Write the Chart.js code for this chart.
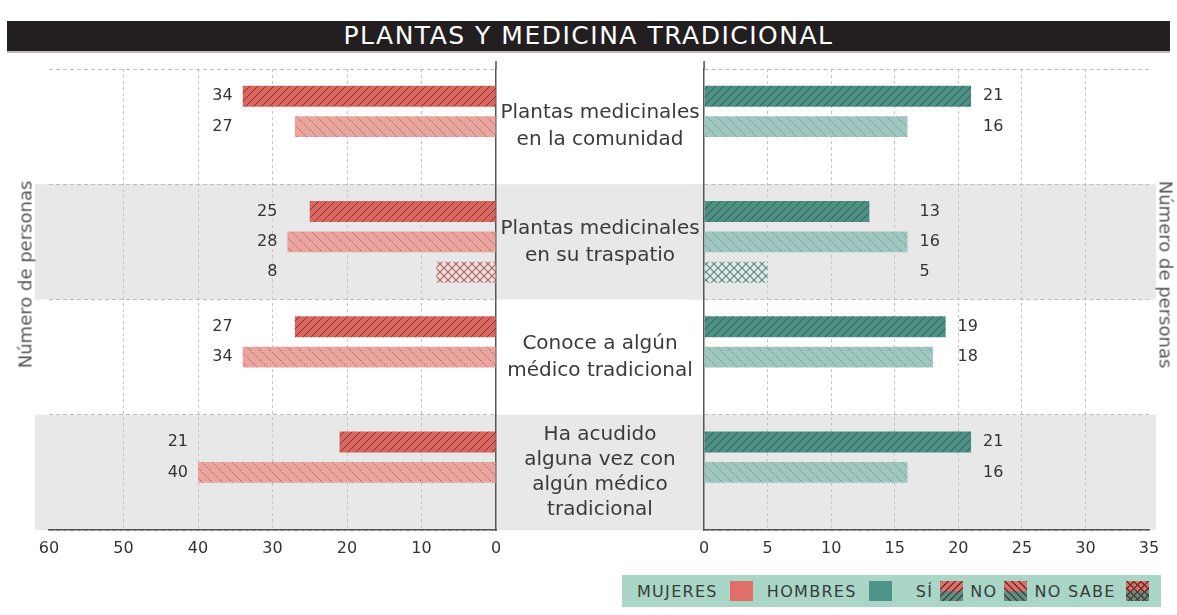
<!DOCTYPE html>
<html>
<head>
<meta charset="utf-8">
<script src="https://cdn.jsdelivr.net/npm/chart.js@4.4.1/dist/chart.umd.min.js"></script>
<style>
  body { margin: 0; background: #fff; font-family: 'DejaVu Sans', sans-serif; }
  #wrap { position: relative; width: 1177px; height: 615px; overflow: hidden; }
  #titulo { position: absolute; left: 7px; top: 21px; width: 1163px; height: 30px; background: #231f20;
    color: #fff; font-size: 25px; line-height: 30px; text-align: center; letter-spacing: 1.5px;
    border-bottom: 2px solid #bbb; }
  #izq { position: absolute; left: 0; top: 0; }
  #der { position: absolute; left: 690px; top: 0; }
  .ejeY { position: absolute; font-size: 18px; color: #555; white-space: nowrap; top: 264px; }
  #ejeIzq { left: 25px; transform: translate(-50%, 0) rotate(-90deg); }
  #ejeDer { left: 1166px; transform: translate(-50%, 0) rotate(90deg); }
  #leyenda { position: absolute; left: 622px; top: 575px; width: 539px; height: 32px; background: #a9d6c7;
    font-size: 16px; color: #3a3a3a; display: flex; align-items: center; padding-left: 15px; box-sizing: border-box;
    letter-spacing: 1.3px; }
  .sw { display: inline-block; width: 23px; height: 20px; margin-left: 7px; flex: none; }
</style>
</head>
<body>
<div id="wrap">
  <div id="titulo">PLANTAS Y MEDICINA TRADICIONAL</div>
  <canvas id="der" width="490" height="615"></canvas>
  <canvas id="izq" width="700" height="615"></canvas>
  <div class="ejeY" id="ejeIzq">Número de personas</div>
  <div class="ejeY" id="ejeDer">Número de personas</div>
  <div id="leyenda">
    <span>MUJERES</span>
    <div class="sw" style="margin-left:12px;background:#df6f68"></div>
    <span style="margin-left:14px">HOMBRES</span>
    <div class="sw" style="margin-left:12px;background:#4f9488"></div>
    <span style="margin-left:24px">SÍ</span>
    <div class="sw" style="background:
      repeating-linear-gradient(-45deg, transparent 0 4px, #6e3431 4px 5px),
      linear-gradient(#df6f68 50%, #4f9488 50%)"></div>
    <span style="margin-left:7px">NO</span>
    <div class="sw" style="background:
      repeating-linear-gradient(45deg, transparent 0 4px, #6e3431 4px 5px),
      linear-gradient(#df6f68 50%, #4f9488 50%)"></div>
    <span style="margin-left:7px">NO SABE</span>
    <div class="sw" style="margin-left:10px;background:
      repeating-linear-gradient(45deg, transparent 0 4px, #6e3431 4px 5px),
      repeating-linear-gradient(-45deg, transparent 0 4px, #6e3431 4px 5px),
      linear-gradient(#df6f68 50%, #4f9488 50%)"></div>
  </div>
</div>
<script>
// categorias (centro)
const categorias = [
  ['Plantas medicinales', 'en la comunidad'],
  ['Plantas medicinales', 'en su traspatio'],
  ['Conoce a algún', 'médico tradicional'],
  ['Ha acudido', 'alguna vez con', 'algún médico', 'tradicional']
];
const series = ['Sí', 'No', 'No sabe'];

// mujeres (izquierda)
const mujeresSi = [34, 25, 27, 21];
const mujeresNo = [27, 28, 34, 40];
const mujeresNoSabe = [null, 8, null, null];

// hombres (derecha)
const hombresSi = [21, 13, 19, 21];
const hombresNo = [16, 16, 18, 16];
const hombresNoSabe = [null, 5, null, null];

const ticksMujeres = [0, 60, 10];
const ticksHombres = [0, 35, 5];

function trama(ctx, fondo, linea, tipo, tam, dash, ancho) {
  const c = document.createElement('canvas');
  c.width = c.height = tam;
  const g = c.getContext('2d');
  g.fillStyle = fondo;
  g.fillRect(0, 0, tam, tam);
  g.strokeStyle = linea;
  g.lineWidth = ancho || 1;
  if (dash) g.setLineDash(dash);
  const dibuja = (dir) => {
    for (let k = -1; k <= 1; k++) {
      g.beginPath();
      if (dir === '/') { g.moveTo(k * tam, tam); g.lineTo(k * tam + tam, 0); }
      else { g.moveTo(k * tam, 0); g.lineTo(k * tam + tam, tam); }
      g.stroke();
    }
  };
  if (tipo === '/' || tipo === 'x') dibuja('/');
  if (tipo === '\\' || tipo === 'x') dibuja('\\');
  return ctx.createPattern(c, 'repeat');
}

const gris = '#e8e8e8';

function pluginFranjas(lado) {
  return {
    id: 'franjas' + lado,
    beforeDraw(chart) {
      const { ctx, chartArea, scales } = chart;
      const y = scales.y;
      const paso = chartArea.height / categorias.length;
      const x0 = lado === 'izq' ? 35 : 0;
      const x1 = lado === 'izq' ? chart.width : chartArea.left + 452;
      ctx.save();
      ctx.fillStyle = gris;
      [1, 3].forEach(i => {
        const c = y.getPixelForValue(i);
        ctx.fillRect(x0, c - paso / 2, x1 - x0, paso);
      });
      ctx.restore();
    },
    afterDatasetsDraw(chart) {
      const { ctx, scales } = chart;
      ctx.save();
      ctx.font = '16px "DejaVu Sans"';
      ctx.fillStyle = '#333';
      ctx.textBaseline = 'middle';
      ctx.textAlign = lado === 'izq' ? 'right' : 'left';
      categorias.forEach((_, i) => {
        let max = 0;
        chart.data.datasets.forEach(ds => { if (ds.data[i] != null) max = Math.max(max, ds.data[i]); });
        const xp = scales.x.getPixelForValue(max) + (lado === 'izq' ? -10 : 12);
        chart.data.datasets.forEach((ds, d) => {
          if (ds.data[i] == null) return;
          const bar = chart.getDatasetMeta(d).data[i];
          ctx.fillText(String(ds.data[i]), xp, bar.y);
        });
      });
      ctx.restore();
    },
    afterDraw(chart) {
      const { ctx, chartArea, scales } = chart;
      ctx.save();
      ctx.strokeStyle = '#555';
      ctx.lineWidth = 1.5;
      const xe = lado === 'izq' ? chartArea.right : chartArea.left;
      ctx.beginPath();
      ctx.moveTo(xe, chartArea.top - 8);
      ctx.lineTo(xe, chartArea.top);
      ctx.stroke();
      if (lado === 'izq') {
        ctx.font = '20px "DejaVu Sans"';
        ctx.fillStyle = '#3a3a3a';
        ctx.textAlign = 'center';
        ctx.textBaseline = 'middle';
        const cx = chartArea.right + 104;
        categorias.forEach((lineas, i) => {
          const cy = scales.y.getPixelForValue(i);
          const lh = lineas.length > 2 ? 25 : 27;
          lineas.forEach((t, j) => {
            ctx.fillText(t, cx, cy + (j - (lineas.length - 1) / 2) * lh);
          });
        });
      }
      ctx.restore();
    }
  };
}

function crear(id, lado, datos, colores, rango) {
  const el = document.getElementById(id);
  const ctx = el.getContext('2d');
  const [min, max, paso] = rango;
  return new Chart(ctx, {
    type: 'bar',
    data: {
      labels: categorias,
      datasets: series.map((s, k) => ({
        label: s,
        data: datos[k],
        backgroundColor: colores[k],
        borderWidth: 0,
        categoryPercentage: 0.792,
        barPercentage: 0.69
      }))
    },
    options: {
      indexAxis: 'y',
      responsive: false,
      animation: false,
      layout: { padding: lado === 'izq' ? { left: 49, right: 204, top: 69, bottom: 0 } : { left: 5, right: 30, top: 69, bottom: 0 } },
      plugins: { legend: { display: false }, tooltip: { enabled: false } },
      scales: {
        x: {
          type: 'linear',
          reverse: lado === 'izq',
          min: min,
          max: max,
          afterFit(s) { s.height = 85; },
          ticks: { stepSize: paso, color: '#333', font: { family: 'DejaVu Sans', size: 16 }, padding: 9 },
          grid: {
            color: c => (c.tick && (c.tick.value === 0 || c.tick.value === max)) ? 'rgba(0,0,0,0)' : '#c4c4c4',
            drawTicks: false,
            lineWidth: 1
          },
          border: { display: true, color: '#555', width: 1.5, dash: [3, 3] }
        },
        y: {
          type: 'category',
          position: lado === 'izq' ? 'right' : 'left',
          afterFit(s) { s.width = 0; },
          ticks: { display: false },
          grid: { offset: true, color: '#bdbdbd', drawTicks: false, lineWidth: 1 },
          border: { display: true, color: '#555', width: 1.5, dash: [4, 3] }
        }
      }
    },
    plugins: [pluginFranjas(lado)]
  });
}

// coloca el area del grafico en la posicion de la pagina
function ajustar(chart, izqCanvas, quiereIzq, quiereDer) {
  for (let n = 0; n < 3; n++) {
    const a = chart.chartArea;
    const pad = chart.options.layout.padding;
    pad.left += (quiereIzq - izqCanvas) - a.left;
    pad.right += a.right - (quiereDer - izqCanvas);
    chart.update();
  }
}

const ctxI = document.getElementById('izq').getContext('2d');
const ctxD = document.getElementById('der').getContext('2d');

const coloresMujeres = [
  trama(ctxI, '#d9665f', '#8e3430', '/', 8),
  trama(ctxI, '#eaa59f', '#9c5a55', '\\', 10, [1.5, 1.5]),
  trama(ctxI, '#f8dad6', '#9a6e6c', 'x', 8, null, 1.2)
];
const coloresHombres = [
  trama(ctxD, '#4e9083', '#2a5c53', '/', 8),
  trama(ctxD, '#a0c7bf', '#5f8d84', '\\', 10, [1.5, 1.5]),
  trama(ctxD, '#dcebe7', '#66877f', 'x', 8, null, 1.2)
];

const chartIzq = crear('izq', 'izq', [mujeresSi, mujeresNo, mujeresNoSabe], coloresMujeres, ticksMujeres);
const chartDer = crear('der', 'der', [hombresSi, hombresNo, hombresNoSabe], coloresHombres, ticksHombres);

ajustar(chartIzq, 0, 49, 496);
ajustar(chartDer, 690, 705, 1149);
</script>
</body>
</html>
